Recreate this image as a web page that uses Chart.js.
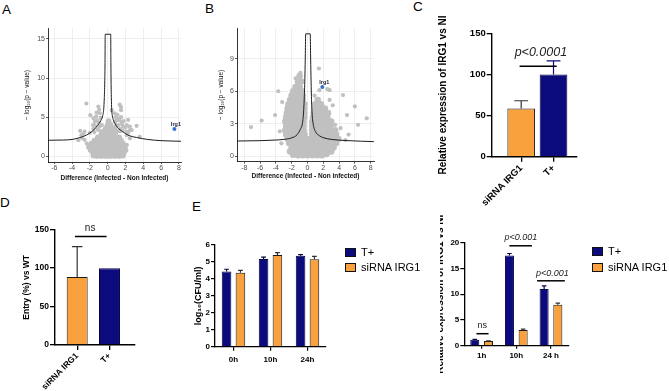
<!DOCTYPE html>
<html>
<head>
<meta charset="utf-8">
<title>IRG1 - figura</title>
<script src="https://cdn.jsdelivr.net/npm/chart.js@4.4.1/dist/chart.umd.min.js"></script>
<style>
  html, body { margin: 0; padding: 0; background: #fff; }
  #figura { position: relative; width: 669px; height: 391px; overflow: hidden; font-family: "Liberation Sans", Arial, sans-serif; }
  #figura canvas { position: absolute; }
  .letra { position: absolute; font-size: 13.5px; line-height: 1; color: #000; }
  .recorte { position: absolute; overflow: hidden; }
  .legenda { position: absolute; font-size: 11px; line-height: 1; color: #000; }
  .legenda .linha { display: flex; align-items: center; }
  .legenda .cx { display: inline-block; width: 11px; height: 9px; border: 1px solid #111; box-sizing: border-box; margin-right: 5px; }
</style>
</head>
<body>
<div id="figura">
  <div class="letra" style="left:2px;top:3px">A</div>
  <div class="letra" style="left:205px;top:2px">B</div>
  <div class="letra" style="left:413px;top:0px">C</div>
  <div class="letra" style="left:0px;top:196px">D</div>
  <div class="letra" style="left:192px;top:200px">E</div>
  <canvas id="graficoA" width="190" height="190" style="left:0;top:0"></canvas>
  <canvas id="graficoB" width="190" height="190" style="left:190px;top:0"></canvas>
  <canvas id="graficoD" width="160" height="196" style="left:0;top:195px"></canvas>
  <canvas id="graficoE" width="270" height="196" style="left:160px;top:195px"></canvas>
  <div class="recorte" style="left:440px;top:195px;width:229px;height:196px">
    <canvas id="graficoF" width="150" height="196" style="left:-10px;top:0"></canvas>
  </div>
  <canvas id="graficoC" width="220" height="215" style="left:370px;top:0"></canvas>
  <div class="legenda" id="legendaE" style="left:345px;top:245px"></div>
  <div class="legenda" id="legendaF" style="left:592px;top:243px"></div>
</div>
<script>
// ---------- Dados ----------

// A: volcano (Infected - Non Infected), nuvem central e pontos dispersos
const pontosA = [
  [-1.6,0.1],[-1.2,0.05],[-0.7,0.05],[-0.2,0.05],[0.3,0.05],[0.8,0.05],[1.3,0.05],[1.7,0.1],
  [-1.6,0.4],[-1.1,0.4],[-0.6,0.4],[-0.1,0.4],[0.4,0.4],[0.9,0.4],[1.4,0.4],[1.8,0.4],
  [-1.9,0.8],[-1.4,0.8],[-0.9,0.8],[-0.4,0.8],[0.1,0.8],[0.6,0.8],[1.1,0.8],[1.6,0.8],[2.0,0.8],
  [-2.1,1.2],[-1.6,1.2],[-1.1,1.2],[-0.6,1.2],[-0.1,1.2],[0.4,1.2],[0.9,1.2],[1.4,1.2],[1.9,1.2],
  [-1.8,1.6],[-1.3,1.6],[-0.8,1.6],[-0.3,1.6],[0.2,1.6],[0.7,1.6],[1.2,1.6],[1.7,1.6],
  [-1.5,2.0],[-1.0,2.0],[-0.5,2.0],[0.0,2.0],[0.5,2.0],[1.0,2.0],[1.5,2.0],
  [-1.1,2.4],[-0.6,2.4],[-0.1,2.4],[0.4,2.4],[0.9,2.4],[1.3,2.4],
  [-0.7,2.8],[-0.2,2.8],[0.3,2.8],[0.8,2.8],
  [-0.4,3.2],[0.1,3.2],[0.5,3.2],[0.9,3.2],
  [-0.2,3.6],[0.2,3.6],[0.6,3.6],
  [0.0,4.0],[0.3,4.0],[0.1,4.5]
];
const dispersosA = [
  [-2.4,6.75],[-1.05,6.35],[-0.95,5.95],[1.35,6.6],[1.5,6.3],[1.5,5.9],[-0.9,5.5],[-1.25,5.6],
  [-1.95,5.25],[-1.6,4.85],[-1.45,4.4],[-1.65,4.0],[-0.65,4.0],
  [-3.1,3.25],[-2.6,3.15],[-2.75,2.85],[-2.95,2.7],[-3.3,2.05],[-2.9,2.35],[-2.6,2.1],[-2.35,1.65],[-2.0,1.45],
  [-1.2,4.6],[-1.0,4.3],[-1.4,3.9],[-0.9,3.8],[-1.6,3.5],[-1.1,3.4],[-2.0,3.0],[-1.5,3.1],[-0.8,3.2],
  [-1.3,5.1],[-0.8,4.9],
  [0.45,5.9],[0.8,5.5],[0.9,5.0],[1.1,5.3],[1.08,4.85],[1.3,4.6],[1.5,5.0],[0.8,4.4],[1.0,4.6],
  [1.57,4.4],[1.2,4.0],[0.95,4.0],[1.75,3.8],[1.6,4.1],[1.8,4.5],[0.9,3.7],[1.4,3.5],[2.0,3.7],
  [1.7,3.3],[1.4,3.2],[2.15,3.15],[2.3,3.0],[1.1,3.2],[0.7,3.4],
  [2.3,4.65],[2.15,4.0],[2.5,3.8],[2.7,3.35],[2.5,3.35],[3.25,3.9],[2.15,2.7],[2.5,2.3],[3.6,2.5],[2.15,1.45]
];
const curvaA = [
  [-6.7,2.05],[-5,2.08],[-4,2.15],[-3.1,2.4],[-2.4,2.7],[-1.8,3.15],[-1.3,3.7],[-0.98,4.2],
  [-0.75,4.6],[-0.56,5.2],[-0.45,6],[-0.38,7.5],[-0.33,9.5],[-0.3,12],[-0.28,15.6],
  [0.34,15.6],[0.36,12],[0.38,9.5],[0.41,7.5],[0.45,6],[0.52,5.2],[0.65,4.6],[0.82,4.2],
  [1.1,3.7],[1.68,3.15],[2.4,2.65],[3.26,2.4],[4.5,2.15],[6,2.0],[8.24,1.92]
];
const destaqueA = [[7.5,3.5]];

// B: volcano (Infected - Non infected)
const pontosB = [
  [-1.8,0.15],[-1.2,0.1],[-0.6,0.1],[0,0.1],[0.6,0.1],[1.2,0.1],[1.8,0.1],[2.4,0.2],
  [-2.2,0.45],[-1.6,0.4],[-1.0,0.4],[-0.4,0.4],[0.2,0.4],[0.8,0.4],[1.4,0.4],[2.0,0.4],[2.5,0.4],[3.0,0.45],
  [-2.0,0.8],[-1.4,0.8],[-0.8,0.8],[-0.2,0.8],[0.4,0.8],[1.0,0.8],[1.6,0.8],[2.2,0.8],[2.8,0.8],[3.3,0.8],
  [-2.3,1.2],[-1.7,1.2],[-1.1,1.2],[-0.5,1.2],[0.1,1.2],[0.7,1.2],[1.3,1.2],[1.9,1.2],[2.5,1.2],[3.1,1.2],[3.6,1.2],
  [-2.5,1.6],[-1.9,1.6],[-1.3,1.6],[-0.7,1.6],[-0.1,1.6],[0.5,1.6],[1.1,1.6],[1.7,1.6],[2.3,1.6],[2.9,1.6],[3.5,1.6],[3.9,1.6],
  [-2.7,2.0],[-2.1,2.0],[-1.5,2.0],[-0.9,2.0],[-0.4,2.0],[0.6,2.0],[1.2,2.0],[1.8,2.0],[2.4,2.0],[3.0,2.0],[3.6,2.0],
  [-2.8,2.4],[-2.2,2.4],[-1.6,2.4],[-1.0,2.4],[-0.5,2.4],[0.6,2.4],[1.2,2.4],[1.8,2.4],[2.4,2.4],[3.0,2.4],[3.5,2.4],
  [-2.7,2.8],[-2.1,2.8],[-1.5,2.8],[-0.9,2.8],[-0.5,2.8],[0.6,2.8],[1.1,2.8],[1.7,2.8],[2.3,2.8],[2.9,2.8],
  [-2.8,3.2],[-2.2,3.2],[-1.6,3.2],[-1.0,3.2],[-0.5,3.2],[0.6,3.2],[1.2,3.2],[1.8,3.2],[2.4,3.2],[3.0,3.2],
  [-2.7,3.6],[-2.1,3.6],[-1.5,3.6],[-0.9,3.6],[-0.4,3.6],[0.7,3.6],[1.3,3.6],[1.9,3.6],[2.5,3.6],
  [-2.6,4.0],[-2.0,4.0],[-1.4,4.0],[-0.8,4.0],[-0.4,4.0],[0.8,4.0],[1.4,4.0],[2.0,4.0],[2.6,4.0],
  [-2.5,4.4],[-1.9,4.4],[-1.3,4.4],[-0.8,4.4],[-0.4,4.4],[0.9,4.4],[1.5,4.4],[2.2,4.4],
  [-2.4,4.8],[-1.8,4.8],[-1.2,4.8],[-0.7,4.8],[-0.4,4.8],[1.0,4.8],[1.7,4.8],
  [-2.2,5.2],[-1.6,5.2],[-1.1,5.2],[-0.6,5.2],[1.3,5.2],
  [-2.0,5.6],[-1.5,5.6],[-1.0,5.6],[-0.6,5.6],
  [-1.8,6.0],[-1.2,6.0],[-0.7,6.0],
  [-1.5,6.4],[-1.0,6.4],
  [-1.2,6.9],[-0.8,6.9],
  [-1.0,7.4]
];
const dispersosB = [
  [1.45,8.1],[-0.9,7.7],[-1.5,7.2],[-3.7,6.0],[-3.2,5.0],[-4.1,3.8],[-5.8,3.3],[-7.15,2.7],[-3.5,2.3],
  [-3.3,1.2],[4.5,5.65],[6.0,4.6],[7.5,3.5],[5.0,3.8],[6.4,2.9],[5.2,2.0],[3.5,2.9],[4.2,2.6],
  [4.8,1.5],[3.2,4.7],[2.8,5.2],[2.5,6.2],[2.8,6.1],[1.5,6.1],[0.9,5.6]
];
const curvaB = [
  [-8.9,1.41],[-6,1.44],[-4,1.5],[-3,1.56],[-2,1.7],[-1.3,2.0],[-0.9,2.5],[-0.65,3],[-0.5,4],
  [-0.4,5.5],[-0.32,7.5],[-0.27,9.5],[-0.23,11.3],[0.35,11.3],[0.39,9.5],[0.44,7.5],[0.5,5.5],
  [0.58,4],[0.72,3],[1.0,2.3],[1.5,1.9],[2,1.72],[3,1.56],[5,1.45],[8.4,1.35]
];
const destaqueB = [[1.88,6.39]];
const genesDestaque = ['Irg1'];

// C: expressão relativa de IRG1 vs NI
const categoriasC = ['siRNA IRG1', 'T+'];
const valoresC = [58.5, 100];
const errosC = [9.5, 16.5];

// D: entrada (%) vs WT
const categoriasD = ['siRNA IRG1', 'T+'];
const valoresD = [88.5, 100];
const errosD = [39.5, 0];

// E (esquerda): log10(CFU/ml)
const temposE = ['0h', '10h', '24h'];
const tPlusE = [4.43, 5.18, 5.37];
const errTPlusE = [0.14, 0.1, 0.06];
const siRNAE = [4.37, 5.41, 5.16];
const errSiRNAE = [0.13, 0.14, 0.17];

// E (direita): expressão relativa de IRG1 vs NI
const temposF = ['1h', '10h', '24 h'];
const tPlusF = [1.17, 17.5, 11.0];
const errTPlusF = [0.05, 0.4, 0.6];
const siRNAF = [0.9, 3.05, 7.95];
const errSiRNAF = [0.05, 0.15, 0.3];

const nomesSeries = ['T+', 'siRNA IRG1'];

// ---------- Configuração geral ----------
const FONTE = '"Liberation Sans", Arial, sans-serif';
const AZUL = '#0b0b7e';
const LARANJA = '#f9a23d';
const CONTORNO = '#1a1a1a';
const CINZA = '#c0c0c0';

Chart.defaults.font.family = FONTE;
Chart.defaults.color = '#000';
Chart.defaults.animation = false;
Chart.defaults.responsive = false;
Chart.defaults.devicePixelRatio = 1;
Chart.defaults.plugins.legend.display = false;
Chart.defaults.plugins.tooltip.enabled = false;

const paraXY = lista => lista.map(p => ({ x: p[0], y: p[1] }));

/**
 * Barras de erro (só para cima, estilo GraphPad)
 */
const pluginBarrasErro = {
  id: 'barrasErro',
  afterDatasetsDraw(chart) {
    const ctx = chart.ctx;
    const escY = chart.scales.y;
    chart.data.datasets.forEach((ds, i) => {
      if (!ds.erros) return;
      const meta = chart.getDatasetMeta(i);
      meta.data.forEach((barra, j) => {
        const e = ds.erros[j];
        if (!e) return;
        const v = meta.controller.getParsed(j).y;
        const yTopo = escY.getPixelForValue(v + e);
        const meia = barra.width * 0.25;
        ctx.save();
        ctx.strokeStyle = Array.isArray(ds.corErro) ? ds.corErro[j] : ds.corErro;
        ctx.lineWidth = 1.2;
        ctx.beginPath();
        ctx.moveTo(barra.x, barra.y);
        ctx.lineTo(barra.x, yTopo);
        ctx.moveTo(barra.x - meia, yTopo);
        ctx.lineTo(barra.x + meia, yTopo);
        ctx.stroke();
        ctx.restore();
      });
    });
  }
};

/**
 * Linhas de significância com texto (p<0.001, ns...)
 */
const pluginAnotacoes = {
  id: 'anotacoes',
  afterDatasetsDraw(chart, args, opts) {
    const ctx = chart.ctx;
    const escX = chart.scales.x, escY = chart.scales.y;
    (opts.itens || []).forEach(a => {
      const y = escY.getPixelForValue(a.y);
      ctx.save();
      ctx.strokeStyle = '#000';
      ctx.lineWidth = 1.5;
      ctx.beginPath();
      ctx.moveTo(escX.getPixelForValue(a.x1), y);
      ctx.lineTo(escX.getPixelForValue(a.x2), y);
      ctx.stroke();
      ctx.fillStyle = '#222';
      ctx.font = (a.italico ? 'italic ' : '') + a.tamanho + 'px ' + FONTE;
      ctx.textAlign = 'center';
      ctx.textBaseline = 'middle';
      ctx.fillText(a.texto, escX.getPixelForValue(a.xt), y - a.dy);
      ctx.restore();
    });
  }
};

/**
 * Rótulo do gene em destaque nos volcanos
 */
const pluginRotulo = {
  id: 'rotulo',
  afterDatasetsDraw(chart, args, opts) {
    const meta = chart.getDatasetMeta(1);
    const ctx = chart.ctx;
    meta.data.forEach((pt, j) => {
      ctx.save();
      ctx.fillStyle = '#1c1c3c';
      ctx.font = 'bold 5.5px ' + FONTE;
      ctx.textAlign = 'center';
      ctx.textBaseline = 'middle';
      ctx.fillText(genesDestaque[j], pt.x + opts.dx, pt.y - opts.dy);
      ctx.restore();
    });
  }
};

// Fixa a área do gráfico (coordenadas do canvas)
function areaFixa(canvas, area) {
  return {
    padding: { left: 0, top: area.top, right: canvas.width - area.right, bottom: 0 },
    larguraY: area.left,
    alturaX: canvas.height - area.bottom
  };
}

// ---------- Volcanos ----------
function criarVulcao(id, cfg) {
  const canvas = document.getElementById(id);
  const a = areaFixa(canvas, cfg.area);
  const ponto = (dados, raio, cor, ordem) => ({
    data: paraXY(dados), pointRadius: raio, pointBorderWidth: 0, borderWidth: 0,
    pointBackgroundColor: cor, pointBorderColor: cor, backgroundColor: cor, borderColor: cor, order: ordem
  });
  return new Chart(canvas, {
    type: 'scatter',
    data: {
      datasets: [
        {
          type: 'line', data: paraXY(cfg.curva), borderColor: '#1e1e1e', borderWidth: 1,
          pointRadius: 0, cubicInterpolationMode: 'monotone', fill: false, order: 0
        },
        ponto(cfg.destaque, 2, '#3a6fd0', 1),
        ponto(cfg.pontos, cfg.raioNuvem, CINZA, 2),
        ponto(cfg.dispersos, 2.1, CINZA, 3)
      ]
    },
    options: {
      layout: { padding: a.padding },
      scales: {
        x: {
          type: 'linear', min: cfg.xMin, max: cfg.xMax,
          afterFit: s => { s.height = a.alturaX; },
          ticks: { stepSize: 2, includeBounds: false, maxRotation: 0, padding: 0, color: '#4d4d4d', font: { size: 7 } },
          grid: { color: '#ebebeb', lineWidth: 0.8, tickLength: 2, tickColor: '#333' },
          border: { color: '#000', width: 0.8 },
          title: { display: true, text: cfg.tituloX, color: '#111', font: { size: 6.5, weight: 'bold' }, padding: { top: 0, bottom: cfg.padTituloX } }
        },
        y: {
          type: 'linear', min: cfg.yMin, max: cfg.yMax,
          afterFit: s => { s.width = a.larguraY; },
          ticks: { stepSize: cfg.passoY, includeBounds: false, padding: 1, color: '#4d4d4d', font: { size: 7 } },
          grid: { color: '#ebebeb', lineWidth: 0.8, tickLength: 2, tickColor: '#333' },
          border: { color: '#000', width: 0.8 },
          title: { display: true, text: '\u2212 log\u2081\u2080(p \u2212 value)', color: '#111', font: { size: 6.5 }, padding: { top: cfg.padTituloY, bottom: 0 } }
        }
      },
      plugins: { rotulo: { dx: cfg.rotuloDx, dy: cfg.rotuloDy } }
    },
    plugins: [pluginRotulo]
  });
}

criarVulcao('graficoA', {
  area: { left: 48, top: 28, right: 181, bottom: 162 },
  pontos: pontosA, dispersos: dispersosA, curva: curvaA, destaque: destaqueA, raioNuvem: 2.9,
  xMin: -6.71, xMax: 8.24, yMin: -0.73, yMax: 16.4, passoY: 5,
  tituloX: 'Difference (Infected - Non Infected)', padTituloX: 8.1, padTituloY: 23.1,
  rotuloDx: 1.5, rotuloDy: 4.5
});

criarVulcao('graficoB', {
  area: { left: 47, top: 28, right: 184, bottom: 161.7 },
  pontos: pontosB, dispersos: dispersosB, curva: curvaB, destaque: destaqueB, raioNuvem: 3.3,
  xMin: -8.92, xMax: 8.42, yMin: -0.5, yMax: 11.84, passoY: 3,
  tituloX: 'Difference (Infected - Non infected)', padTituloX: 9.4, padTituloY: 27.8,
  rotuloDx: 2, rotuloDy: 4.5
});

// ---------- Barras simples (C e D) ----------
function criarBarrasSimples(id, cfg) {
  const canvas = document.getElementById(id);
  const a = areaFixa(canvas, cfg.area);
  const cores = [LARANJA, AZUL];
  return new Chart(canvas, {
    type: 'bar',
    data: {
      datasets: [{
        data: cfg.valores.map((v, i) => ({ x: i, y: v })),
        backgroundColor: cores,
        borderColor: [CONTORNO, '#050540'],
        borderWidth: 1,
        categoryPercentage: 1,
        barPercentage: cfg.larguraBarra,
        erros: cfg.erros,
        corErro: ['#333', AZUL]
      }]
    },
    options: {
      layout: { padding: a.padding },
      scales: {
        x: {
          type: 'linear', min: cfg.xMin, max: cfg.xMax, offset: false,
          afterFit: s => { s.height = a.alturaX; },
          afterBuildTicks: s => { s.ticks = cfg.categorias.map((c, i) => ({ value: i })); },
          ticks: {
            callback: v => cfg.categorias[v], minRotation: 45, maxRotation: 45, padding: 1,
            color: '#000', font: { size: cfg.fonteTicks, weight: 'bold' }
          },
          grid: { drawOnChartArea: false, offset: false, tickLength: 5, tickColor: '#000', lineWidth: 1.3 },
          border: { color: '#000', width: 1.4 }
        },
        y: {
          min: 0, max: 150,
          afterFit: s => { s.width = a.larguraY; },
          ticks: { stepSize: 50, padding: 1, color: '#000', font: { size: cfg.fonteTicks, weight: 'bold' } },
          grid: { drawOnChartArea: false, tickLength: 5, tickColor: '#000', lineWidth: 1.3 },
          border: { color: '#000', width: 1.4 },
          title: { display: true, text: cfg.tituloY, font: { size: cfg.fonteTitulo, weight: 'bold' }, padding: { top: cfg.padTituloY, bottom: 0 } }
        }
      },
      plugins: { anotacoes: { itens: cfg.anotacoes } }
    },
    plugins: [pluginBarrasErro, pluginAnotacoes]
  });
}

criarBarrasSimples('graficoC', {
  area: { left: 121.7, top: 33.3, right: 207, bottom: 156.7 },
  categorias: categoriasC, valores: valoresC, erros: errosC,
  xMin: -0.913, xMax: 1.727, larguraBarra: 0.857,
  tituloY: 'Relative expression of IRG1 vs NI', fonteTitulo: 10, padTituloY: 67.5, fonteTicks: 9.5,
  anotacoes: [{ x1: -0.05, x2: 1.1, y: 110, xt: 0.61, dy: 13.5, texto: 'p<0.0001', italico: true, tamanho: 12.5 }]
});

criarBarrasSimples('graficoD', {
  area: { left: 55, top: 34.7, right: 135, bottom: 150 },
  categorias: categoriasD, valores: valoresD, erros: errosD,
  xMin: -0.687, xMax: 1.79, larguraBarra: 0.65,
  tituloY: 'Entry (%) vs WT', fonteTitulo: 8.5, padTituloY: 21.9, fonteTicks: 8.5,
  anotacoes: [{ x1: -0.07, x2: 0.91, y: 141, xt: 0.4, dy: 8.7, texto: 'ns', italico: false, tamanho: 10 }]
});

// ---------- Barras agrupadas (E) ----------
function criarBarrasAgrupadas(id, cfg) {
  const canvas = document.getElementById(id);
  const a = areaFixa(canvas, cfg.area);
  const serie = (rotulo, valores, erros, cor, borda, corErro) => ({
    label: rotulo, data: valores, backgroundColor: cor, borderColor: borda, borderWidth: 1,
    categoryPercentage: cfg.pctCategoria, barPercentage: cfg.pctBarra, erros: erros, corErro: corErro
  });
  return new Chart(canvas, {
    type: 'bar',
    data: {
      labels: cfg.categorias,
      datasets: [
        serie(nomesSeries[0], cfg.serie1, cfg.erros1, AZUL, '#050540', '#050540'),
        serie(nomesSeries[1], cfg.serie2, cfg.erros2, LARANJA, CONTORNO, '#333')
      ]
    },
    options: {
      layout: { padding: a.padding },
      scales: {
        x: {
          afterFit: s => { s.height = a.alturaX; },
          ticks: { padding: cfg.padTicksX, maxRotation: 0, color: '#000', font: { size: 8, weight: 'bold' } },
          grid: { drawOnChartArea: false, offset: false, tickLength: cfg.tickX, tickColor: '#000', lineWidth: 1.2 },
          border: { color: '#000', width: 1.3 }
        },
        y: {
          min: 0, max: cfg.yMax,
          afterFit: s => { s.width = a.larguraY; },
          ticks: { stepSize: cfg.passoY, padding: 1, color: '#000', font: { size: 8, weight: 'bold' } },
          grid: { drawOnChartArea: false, tickLength: 4, tickColor: '#000', lineWidth: 1.2 },
          border: { color: '#000', width: 1.3 },
          title: { display: true, text: cfg.tituloY, font: { size: cfg.fonteTitulo, weight: 'bold' }, padding: { top: cfg.padTituloY, bottom: 0 } }
        }
      },
      plugins: { anotacoes: { itens: cfg.anotacoes || [] } }
    },
    plugins: [pluginBarrasErro, pluginAnotacoes]
  });
}

const graficoE = criarBarrasAgrupadas('graficoE', {
  area: { left: 55, top: 50, right: 166, bottom: 151.7 },
  categorias: temposE, serie1: tPlusE, erros1: errTPlusE, serie2: siRNAE, erros2: errSiRNAE,
  yMax: 6, passoY: 1, pctCategoria: 0.75, pctBarra: 0.69, tickX: 4, padTicksX: 4,
  tituloY: 'log\u2081\u2080(CFU/ml)', fonteTitulo: 9, padTituloY: 33.1
});

const graficoF = criarBarrasAgrupadas('graficoF', {
  area: { left: 34.3, top: 47.7, right: 138.3, bottom: 150.7 },
  categorias: temposF, serie1: tPlusF, erros1: errTPlusF, serie2: siRNAF, erros2: errSiRNAF,
  yMax: 20, passoY: 5, pctCategoria: 0.79, pctBarra: 0.66, tickX: 3, padTicksX: 2,
  tituloY: 'Relative expression of IRG1 vs NI', fonteTitulo: 10, padTituloY: 4.5,
  anotacoes: [
    { x1: -0.15, x2: 0.2, y: 2.33, xt: 0.02, dy: 7.7, texto: 'ns', italico: false, tamanho: 9 },
    { x1: 0.8, x2: 1.45, y: 19.4, xt: 1.13, dy: 8, texto: 'p<0.001', italico: true, tamanho: 9 },
    { x1: 1.6, x2: 2.4, y: 12.6, xt: 2.04, dy: 7.4, texto: 'p<0.001', italico: true, tamanho: 9 }
  ]
});

// ---------- Legendas em HTML ----------
function montarLegenda(idDiv, grafico, alturaLinha) {
  const div = document.getElementById(idDiv);
  grafico.data.datasets.forEach(ds => {
    const linha = document.createElement('div');
    linha.className = 'linha';
    linha.style.height = alturaLinha + 'px';
    const caixa = document.createElement('span');
    caixa.className = 'cx';
    caixa.style.background = ds.backgroundColor;
    const texto = document.createElement('span');
    texto.textContent = ds.label;
    linha.appendChild(caixa);
    linha.appendChild(texto);
    div.appendChild(linha);
  });
}
montarLegenda('legendaE', graficoE, 15.2);
montarLegenda('legendaF', graficoF, 16.5);
</script>
</body>
</html>
